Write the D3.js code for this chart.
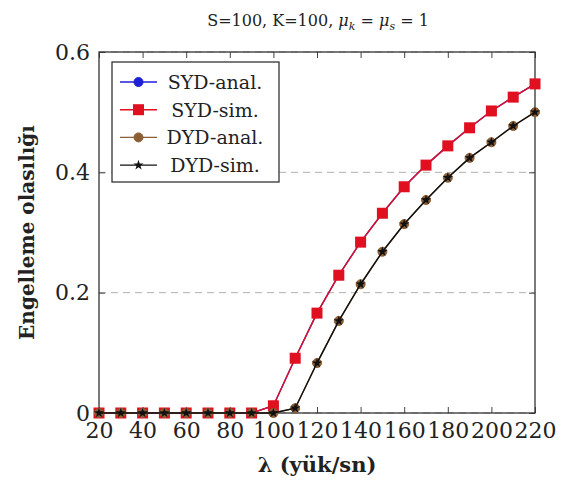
<!DOCTYPE html>
<html>
<head>
<meta charset="utf-8">
<script src="https://cdn.jsdelivr.net/npm/d3@7"></script>
<style>
  body { margin: 0; background: #fff; }
  svg text { font-family: "DejaVu Serif", serif; fill: #222; }
</style>
</head>
<body>
<div class="vis-chart"></div>
<script>
const lambdas = [20, 30, 40, 50, 60, 70, 80, 90, 100, 110, 120, 130, 140, 150, 160, 170, 180, 190, 200, 210, 220];
const sydAnal = [0, 0, 0, 0, 0, 0, 0, 0, 0.012, 0.091, 0.166, 0.229, 0.284, 0.332, 0.376, 0.412, 0.444, 0.474, 0.502, 0.525, 0.547];
const sydSim = [0, 0, 0, 0, 0, 0, 0, 0, 0.012, 0.091, 0.166, 0.229, 0.284, 0.332, 0.376, 0.412, 0.444, 0.474, 0.502, 0.525, 0.547];
const dydAnal = [0, 0, 0, 0, 0, 0, 0, 0, 0, 0.008, 0.083, 0.153, 0.214, 0.268, 0.314, 0.354, 0.391, 0.424, 0.45, 0.477, 0.5];
const dydSim = [0, 0, 0, 0, 0, 0, 0, 0, 0, 0.008, 0.083, 0.153, 0.214, 0.268, 0.314, 0.354, 0.391, 0.424, 0.45, 0.477, 0.5];
const xTicks = [20, 40, 60, 80, 100, 120, 140, 160, 180, 200, 220];
const yTicks = [0, 0.2, 0.4, 0.6];
const yTickLabels = ["0", "0.2", "0.4", "0.6"];
const legendNames = ["SYD-anal.", "SYD-sim.", "DYD-anal.", "DYD-sim."];

const margin = { top: 52, right: 28, bottom: 69, left: 99 };
const totalW = 563, totalH = 482;
const width = totalW - margin.left - margin.right;
const height = totalH - margin.top - margin.bottom;

const root = d3.select(".vis-chart").append("svg")
  .attr("width", totalW)
  .attr("height", totalH);
const svg = root.append("g")
  .attr("transform", "translate(" + margin.left + "," + margin.top + ")");

const x = d3.scaleLinear().domain([20, 220]).range([0, width]);
const y = d3.scaleLinear().domain([0, 0.6]).range([height, 0]);

// dashed grid
svg.selectAll(".grid")
  .data(yTicks)
  .enter()
  .append("line")
  .attr("x1", 0).attr("x2", width)
  .attr("y1", (d) => y(d)).attr("y2", (d) => y(d))
  .attr("stroke", "#b0b0b0")
  .attr("stroke-width", 1)
  .attr("stroke-dasharray", "7,5");

// axes, ticks pointing inward
const tickFmt = (d) => yTickLabels[yTicks.indexOf(d)];
svg.append("g")
  .attr("transform", "translate(0," + height + ")")
  .call(d3.axisBottom(x).tickValues(xTicks).tickSizeInner(-6).tickSizeOuter(0).tickPadding(9));
svg.append("g")
  .call(d3.axisTop(x).tickValues(xTicks).tickSizeInner(-6).tickSizeOuter(0).tickFormat(""));
svg.append("g")
  .call(d3.axisLeft(y).tickValues(yTicks).tickSizeInner(-6).tickSizeOuter(0).tickPadding(9).tickFormat(tickFmt));
svg.append("g")
  .attr("transform", "translate(" + width + ",0)")
  .call(d3.axisRight(y).tickValues(yTicks).tickSizeInner(-6).tickSizeOuter(0).tickFormat(""));

svg.selectAll(".domain").remove();
svg.selectAll(".tick line").attr("stroke", "#444");
svg.selectAll(".tick text")
  .attr("font-size", 22)
  .attr("fill", "#333")
  .style("font-family", "DejaVu Serif, serif");

svg.append("rect")
  .attr("width", width).attr("height", height)
  .attr("fill", "none").attr("stroke", "#333").attr("stroke-width", 1.3);

// series
const line = d3.line().x((d, i) => x(lambdas[i])).y((d) => y(d));
const series = [
  { name: legendNames[0], values: sydAnal, color: "#1f1fd6", marker: "circle" },
  { name: legendNames[1], values: sydSim, color: "#e01020", marker: "square" },
  { name: legendNames[2], values: dydAnal, color: "#8b5e34", marker: "circle" },
  { name: legendNames[3], values: dydSim, color: "#111", marker: "star" }
];

const drawMarker = (g, s, cx, cy) => {
  if (s.marker === "circle") {
    g.append("circle").attr("cx", cx).attr("cy", cy).attr("r", 4.5)
      .attr("fill", s.color).attr("stroke", s.color);
  } else if (s.marker === "square") {
    g.append("rect").attr("x", cx - 5.5).attr("y", cy - 5.5)
      .attr("width", 11).attr("height", 11).attr("fill", s.color);
  } else {
    g.append("path")
      .attr("d", d3.symbol().type(d3.symbolStar).size(32)())
      .attr("transform", "translate(" + cx + "," + cy + ")")
      .attr("fill", s.color);
  }
};

series.forEach((s) => {
  svg.append("path")
    .datum(s.values)
    .attr("d", line)
    .attr("fill", "none")
    .attr("stroke", s.color)
    .attr("stroke-width", 1.4);
  const g = svg.append("g");
  s.values.forEach((v, i) => drawMarker(g, s, x(lambdas[i]), y(v)));
});

// legend
const legend = root.append("g").attr("transform", "translate(112,62)");
legend.append("rect")
  .attr("width", 167).attr("height", 120)
  .attr("fill", "#fff").attr("stroke", "#333").attr("stroke-width", 1.3);
series.forEach((s, i) => {
  const ly = 20 + i * 27.7;
  legend.append("line")
    .attr("x1", 8).attr("x2", 45).attr("y1", ly).attr("y2", ly)
    .attr("stroke", s.color).attr("stroke-width", 1.4);
  drawMarker(legend, s, 26.5, ly);
  legend.append("text")
    .attr("x", 103).attr("y", ly)
    .attr("dy", "0.36em")
    .attr("text-anchor", "middle")
    .attr("font-size", 19)
    .text(s.name);
});

// title
const title = root.append("text")
  .attr("x", 318).attr("y", 26)
  .attr("text-anchor", "middle")
  .attr("font-size", 16);
title.append("tspan").text("S=100, K=100, ");
title.append("tspan").attr("font-style", "italic").text("μ");
title.append("tspan").attr("font-style", "italic").attr("font-size", 11).attr("dy", 4).text("k");
title.append("tspan").attr("dy", -4).text(" = ");
title.append("tspan").attr("font-style", "italic").text("μ");
title.append("tspan").attr("font-style", "italic").attr("font-size", 11).attr("dy", 4).text("s");
title.append("tspan").attr("dy", -4).text(" = 1");

// axis titles
root.append("text")
  .attr("x", margin.left + width / 2).attr("y", 472)
  .attr("text-anchor", "middle")
  .attr("font-size", 21)
  .attr("font-weight", "bold")
  .text("λ (yük/sn)");

root.append("text")
  .attr("transform", "translate(34," + (margin.top + height / 2) + ") rotate(-90)")
  .attr("text-anchor", "middle")
  .attr("font-size", 20)
  .attr("font-weight", "bold")
  .text("Engelleme olasılığı");
</script>
</body>
</html>
